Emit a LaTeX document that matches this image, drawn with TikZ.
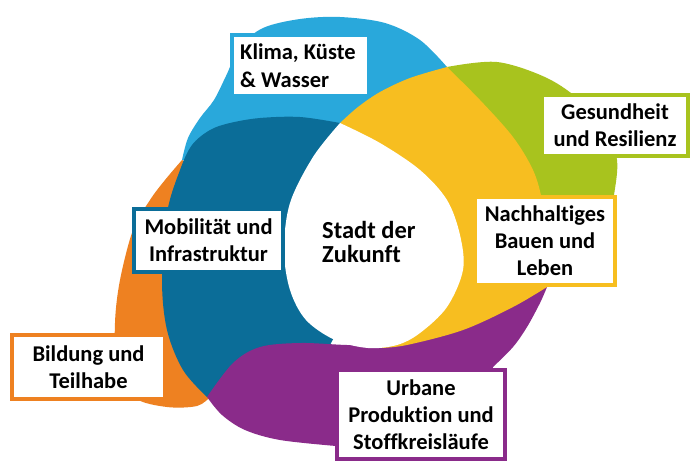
\documentclass[tikz,border=0pt]{standalone}
\usepackage{fontspec}
\setmainfont{Carlito}[Ligatures=NoCommon]
\definecolor{cCyan}{RGB}{41,168,219}
\definecolor{cDark}{RGB}{11,109,152}
\definecolor{cOrange}{RGB}{238,129,33}
\definecolor{cGreen}{RGB}{168,195,30}
\definecolor{cYellow}{RGB}{247,190,32}
\definecolor{cPurple}{RGB}{138,43,138}
\begin{document}
\begin{tikzpicture}[x=1pt,y=-1pt,
  lbl/.style={draw=#1, line width=4pt, fill=white, inner sep=0pt,
    font=\fontsize{22.5}{27}\selectfont\bfseries, align=center, text=black},
  txt/.style={inner sep=0pt, font=\fontsize{22.5}{28}\selectfont\bfseries, text=black},
  smoothp/.style={smooth, tension=0.55}]
\useasboundingbox (0,0) rectangle (693,474);
\fill[white] (0,0) rectangle (693,474);

% cyan blob (top)
\fill[cCyan] plot[smoothp] coordinates {(182,160) (188,138) (200,118) (214,100) (226,76) (240,47) (263,28) (300,19) (340,17) (385,23) (420,40) (447,67)}
  -- (400,150) -- (250,170) -- cycle;

% green blob (top right)
\fill[cGreen] plot[smoothp] coordinates {(447,67) (497,62) (547,78) (582,102) (606,130) (617,160) (614,195) (605,240)}
  -- (540,250) -- (500,140) -- cycle;

% orange blob (left)
\fill[cOrange] plot[smoothp] coordinates {(182,160) (165,180) (150,200) (133,230) (120,280) (115,323) (117,370) (135,398) (167,407) (197,406) (210,397)}
  -- (230,300) -- (200,170) -- cycle;

% dark blue ring part (left)
\fill[cDark] plot[smoothp] coordinates {(340,123) (300,117) (260,118) (230,123) (210,130) (192,145) (180,170) (167,213) (162,280) (167,330) (183,370) (207,397)}
  -- (330,345) -- (380,250) -- cycle;

% purple blob (bottom)
\fill[cPurple] plot[smoothp] coordinates {(207,397) (233,363) (260,347) (300,343) (347,345) (400,346)}
  -- (470,320) -- (547,287)
  -- plot[smoothp] coordinates {(547,287) (540,303) (527,327) (513,347) (493,367)}
  -- (490,440) -- (360,455)
  -- plot[smoothp] coordinates {(336,446) (280,440) (245,430) (222,415) (207,397)} -- cycle;

% yellow ring part (right)
\fill[cYellow] plot[smoothp] coordinates {(340,123) (358,107) (380,92) (410,78) (447,67)}
  -- plot[smoothp] coordinates {(447,67) (480,100) (513,137) (533,170) (542,200) (548,240) (547,287)}
  -- plot[smoothp] coordinates {(547,287) (513,307) (463,330) (407,345) (380,348)}
  -- (380,250) -- cycle;

% white centre
\fill[white] plot[smoothp] coordinates {(340,123) (380,143) (420,170) (447,200) (460,235) (463,270) (447,307) (420,333) (397,345) (368,348) (335,340) (306,320) (290,290) (284,250) (290,203) (313,157) (340,123)};

\node[anchor=west, inner sep=0pt, align=left, font=\fontsize{24.5}{24}\selectfont\bfseries] (title) at (322,241.5) {Stadt der\\Zukunft};

\node[lbl=cCyan, minimum width=137pt, minimum height=61pt] (klimabox) at (300.5,65.5) {};
\node[txt, anchor=west, align=left] (klima) at (240,66) {Klima, Küste\\\& Wasser};
\node[lbl=cGreen, minimum width=146pt, minimum height=61pt] (gesund) at (615,125.5) {Gesundheit\\und Resilienz};
\node[lbl=cYellow, minimum width=140pt, minimum height=88pt] (bauen) at (545,241) {Nachhaltiges\\Bauen und\\Leben};
\node[lbl=cDark, minimum width=149pt, minimum height=63pt] (mobil) at (208.5,240.5) {Mobilität und\\Infrastruktur};
\node[lbl=cOrange, minimum width=153pt, minimum height=64pt] (bildung) at (88.5,367) {Bildung und\\Teilhabe};
\node[lbl=cPurple, minimum width=168pt, minimum height=89pt] (urban) at (421,414.5) {Urbane\\Produktion und\\Stoffkreisläufe};
\end{tikzpicture}
\end{document}
